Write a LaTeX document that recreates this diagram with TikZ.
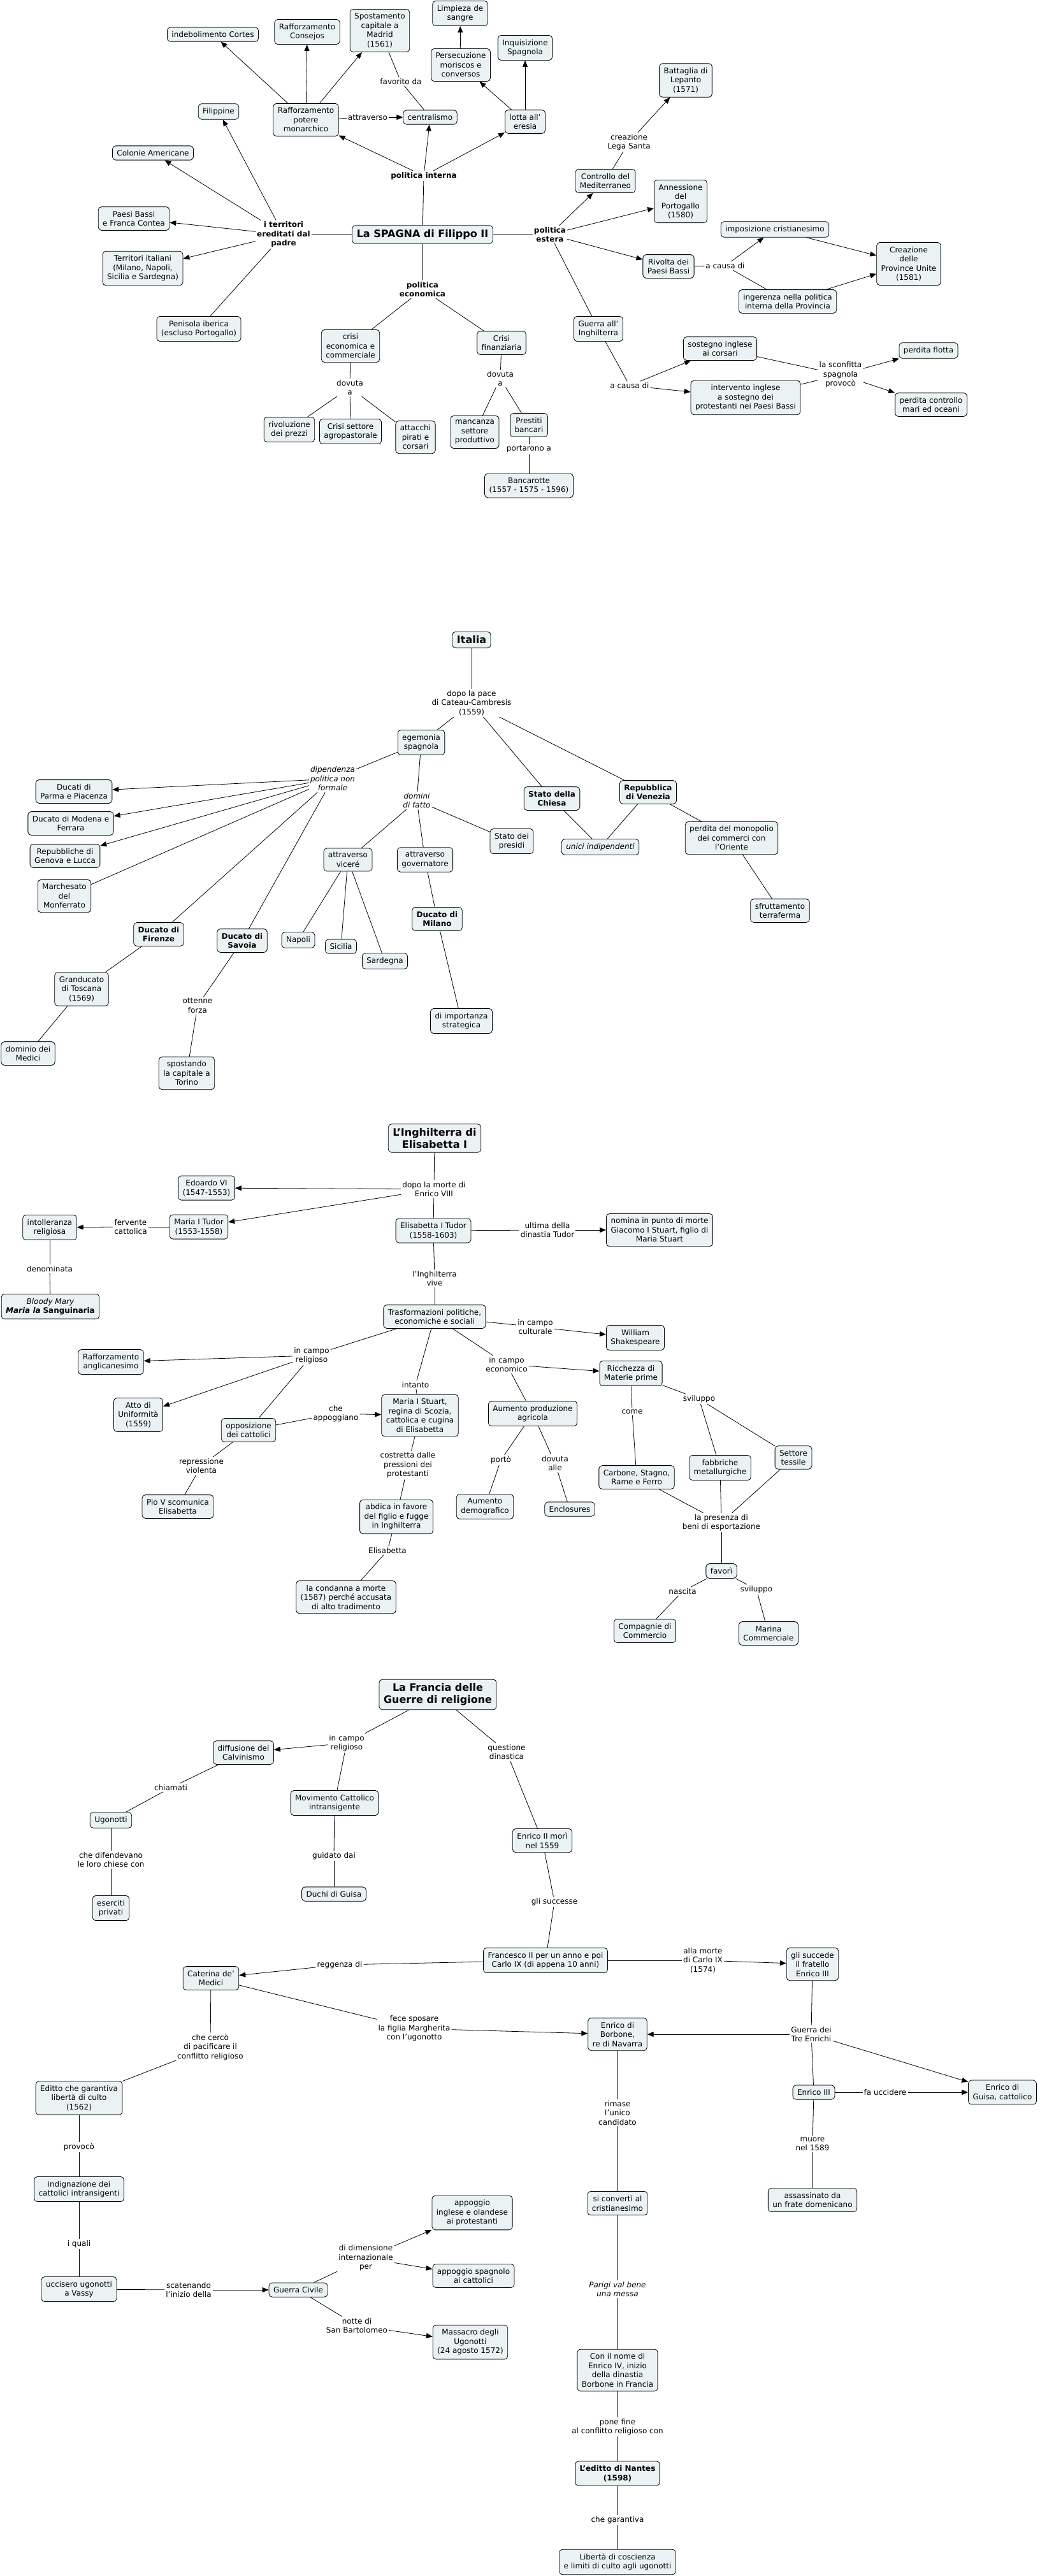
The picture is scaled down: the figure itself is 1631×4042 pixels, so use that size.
\documentclass[tikz,border=0pt]{standalone}
\usepackage{fontspec}
\setmainfont{DejaVu Sans}[ItalicFont={DejaVu Sans Oblique},BoldItalicFont={DejaVu Sans Bold Oblique}]
\usepackage{tikz}
\usetikzlibrary{arrows.meta}
\usepackage{xcolor}
\definecolor{boxfill}{HTML}{EBF2F4}

\begin{document}
\begin{tikzpicture}[x=1pt, y=-1pt,
  every node/.style={font=\fontsize{12}{14.5}\selectfont, align=center},
  concept/.style={draw, fill=boxfill, rounded corners=5pt, line width=0.8pt, inner xsep=7pt, inner ysep=6.5pt},
  keyconcept/.style={concept, font=\fontsize{12}{14.5}\selectfont\bfseries},
  topic/.style={concept, font=\fontsize{16}{19}\selectfont\bfseries},
  phrase/.style={inner sep=2pt},
  phraseb/.style={phrase, font=\fontsize{12}{14.5}\selectfont\bfseries},
  phrasei/.style={phrase, font=\fontsize{12}{14.5}\selectfont\itshape},
  conn/.style={line width=0.8pt},
  arr/.style={conn, -{Triangle[length=10pt,width=8pt]}}]
\useasboundingbox[fill=white] (0,0) rectangle (1631,4042);

% La Spagna di Filippo II
\node[topic] (sp) at (663,368) {La SPAGNA di Filippo II};
\node[phraseb] (pint) at (665,276) {politica interna};
\node[phraseb] (pest) at (863,368) {politica\\estera};
\node[phraseb] (peco) at (663,454) {politica\\economica};
\node[phraseb] (terr) at (445,368) {i territori\\ereditati dal\\padre};
\node[concept] (raff) at (480,188) {Rafforzamento\\potere\\monarchico};
\node[concept] (cort) at (334,54) {indebolimento Cortes};
\node[concept] (cons) at (482,50) {Rafforzamento\\Consejos};
\node[concept] (spos) at (596,48) {Spostamento\\capitale a\\Madrid\\(1561)};
\node[phrase] (favo) at (629,128) {favorito da};
\node[phrase] (attr) at (577,184) {attraverso};
\node[concept] (centr) at (675,184) {centralismo};
\node[concept] (lotta) at (824,191) {lotta all'\\eresia};
\node[concept] (pers) at (723,102) {Persecuzione\\moriscos e\\conversos};
\node[concept] (limp) at (722,21) {Limpieza de\\sangre};
\node[concept] (inq) at (824,75) {Inquisizione\\Spagnola};
\node[concept] (fil) at (343,175) {Filippine};
\node[concept] (col) at (240,240) {Colonie Americane};
\node[concept] (pb) at (210,343) {Paesi Bassi\\e Franca Contea};
\node[concept] (tit) at (224,421) {Territori italiani\\(Milano, Napoli,\\Sicilia e Sardegna)};
\node[concept] (pen) at (312,516) {Penisola iberica\\(escluso Portogallo)};
\node[concept] (crec) at (550,543) {crisi\\economica e\\commerciale};
\node[concept] (crfin) at (787,538) {Crisi\\finanziaria};
\node[phrase] (dov1) at (549,608) {dovuta\\a};
\node[concept] (riv) at (454,674) {rivoluzione\\dei prezzi};
\node[concept] (agro) at (550,677) {Crisi settore\\agropastorale};
\node[concept] (pir) at (652,686) {attacchi\\pirati e\\corsari};
\node[phrase] (dov2) at (785,594) {dovuta\\a};
\node[concept] (manc) at (745,678) {mancanza\\settore\\produttivo};
\node[concept] (prest) at (830,667) {Prestiti\\bancari};
\node[phrase] (port) at (830,705) {portarono a};
\node[concept] (banc) at (830,762) {Bancarotte\\(1557 - 1575 - 1596)};
\node[concept] (contr) at (950,284) {Controllo del\\Mediterraneo};
\node[phrase] (lega) at (987,223) {creazione\\Lega Santa};
\node[concept] (lep) at (1076,126) {Battaglia di\\Lepanto\\(1571)};
\node[concept] (ann) at (1068,316) {Annessione\\del\\Portogallo\\(1580)};
\node[concept] (rivo) at (1049,418) {Rivolta dei\\Paesi Bassi};
\node[phrase] (caus1) at (1138,417) {a causa di};
\node[concept] (imp) at (1216,360) {imposizione cristianesimo};
\node[concept] (ing) at (1236,473) {ingerenza nella politica\\interna della Provincia};
\node[concept] (prov) at (1426,414) {Creazione\\delle\\Province Unite\\(1581)};
\node[concept] (guer) at (939,516) {Guerra all'\\Inghilterra};
\node[phrase] (caus2) at (988,605) {a causa di};
\node[concept] (sost) at (1130,547) {sostegno inglese\\ai corsari};
\node[concept] (interv) at (1170,624) {intervento inglese\\a sostegno dei\\protestanti nei Paesi Bassi};
\node[phrase] (scon) at (1319,588) {la sconfitta\\spagnola\\provocò};
\node[concept] (flot) at (1457,550) {perdita flotta};
\node[concept] (mari) at (1461,635) {perdita controllo\\mari ed oceani};

\draw[conn] (sp) -- (pint);
\draw[arr] (pint) -- (raff);
\draw[arr] (pint) -- (centr);
\draw[arr] (pint) -- (lotta);
\draw[arr] (raff) -- (cort);
\draw[arr] (raff) -- (cons);
\draw[arr] (raff) -- (spos);
\draw[conn] (raff) -- (attr);
\draw[arr] (attr) -- (centr);
\draw[conn] (spos) -- (favo);
\draw[conn] (favo) -- (centr);
\draw[arr] (lotta) -- (pers);
\draw[arr] (lotta) -- (inq);
\draw[arr] (pers) -- (limp);
\draw[conn] (sp) -- (terr);
\draw[arr] (terr) -- (fil);
\draw[arr] (terr) -- (col);
\draw[arr] (terr) -- (pb);
\draw[arr] (terr) -- (tit);
\draw[conn] (terr) -- (pen);
\draw[conn] (sp) -- (peco);
\draw[conn] (peco) -- (crec);
\draw[conn] (peco) -- (crfin);
\draw[conn] (crec) -- (dov1);
\draw[conn] (dov1) -- (riv);
\draw[conn] (dov1) -- (agro);
\draw[conn] (dov1) -- (pir);
\draw[conn] (crfin) -- (dov2);
\draw[conn] (dov2) -- (manc);
\draw[conn] (dov2) -- (prest);
\draw[conn] (prest) -- (port);
\draw[conn] (port) -- (banc);
\draw[conn] (sp) -- (pest);
\draw[arr] (pest) -- (contr);
\draw[arr] (pest) -- (ann);
\draw[arr] (pest) -- (rivo);
\draw[conn] (pest) -- (guer);
\draw[conn] (contr) -- (lega);
\draw[arr] (lega) -- (lep);
\draw[conn] (rivo) -- (caus1);
\draw[arr] (caus1) -- (imp);
\draw[conn] (caus1) -- (ing);
\draw[arr] (imp) -- (prov);
\draw[arr] (ing) -- (prov);
\draw[conn] (guer) -- (caus2);
\draw[arr] (caus2) -- (sost);
\draw[arr] (caus2) -- (interv);
\draw[conn] (sost) -- (scon);
\draw[conn] (interv) -- (scon);
\draw[arr] (scon) -- (flot);
\draw[arr] (scon) -- (mari);

% Italia
\node[topic] (ita) at (740,1004) {Italia};
\node[phrase] (pace) at (740,1103) {dopo la pace\\di Cateau-Cambresis\\(1559)};
\node[concept] (egem) at (661,1165) {egemonia\\spagnola};
\node[phrasei] (dip) at (522,1222) {dipendenza\\politica non\\formale};
\node[phrasei] (dom) at (654,1256) {domini\\di fatto};
\node[concept] (parma) at (116,1242) {Ducati di\\Parma e Piacenza};
\node[concept] (mod) at (111,1292) {Ducato di Modena e\\Ferrara};
\node[concept] (gen) at (102,1343) {Repubbliche di\\Genova e Lucca};
\node[concept] (monf) at (101,1406) {Marchesato\\del\\Monferrato};
\node[keyconcept] (fir) at (249,1466) {Ducato di\\Firenze};
\node[keyconcept] (sav) at (380,1476) {Ducato di\\Savoia};
\node[concept] (tosc) at (128,1552) {Granducato\\di Toscana\\(1569)};
\node[concept] (med) at (44,1653) {dominio dei\\Medici};
\node[phrase] (forza) at (310,1578) {ottenne\\forza};
\node[concept] (tor) at (293,1684) {spostando\\la capitale a\\Torino};
\node[concept] (vic) at (546,1349) {attraverso\\viceré};
\node[concept] (gov) at (667,1349) {attraverso\\governatore};
\node[concept] (pres) at (803,1320) {Stato dei\\presidi};
\node[concept] (nap) at (468,1475) {Napoli};
\node[concept] (sic) at (535,1485) {Sicilia};
\node[concept] (sard) at (604,1508) {Sardegna};
\node[keyconcept] (mil) at (686,1442) {Ducato di\\Milano};
\node[concept] (strat) at (724,1602) {di importanza\\strategica};
\node[keyconcept] (chie) at (866,1253) {Stato della\\Chiesa};
\node[keyconcept] (ven) at (1017,1243) {Repubblica\\di Venezia};
\node[concept, font=\fontsize{12}{14.5}\selectfont\itshape] (unici) at (942,1329) {unici indipendenti};
\node[concept] (mono) at (1148,1315) {perdita del monopolio\\dei commerci con\\l'Oriente};
\node[concept] (sfru) at (1224,1429) {sfruttamento\\terraferma};

\draw[conn] (ita) -- (pace);
\draw[conn] (pace) -- (egem);
\draw[conn] (pace) -- (chie);
\draw[conn] (pace) -- (ven);
\draw[conn] (egem) -- (dip);
\draw[arr] (dip) -- (parma);
\draw[arr] (dip) -- (mod);
\draw[arr] (dip) -- (gen);
\draw[conn] (dip) -- (monf);
\draw[conn] (dip) -- (fir);
\draw[conn] (dip) -- (sav);
\draw[conn] (egem) -- (dom);
\draw[conn] (dom) -- (vic);
\draw[conn] (dom) -- (gov);
\draw[conn] (dom) -- (pres);
\draw[conn] (vic) -- (nap);
\draw[conn] (vic) -- (sic);
\draw[conn] (vic) -- (sard);
\draw[conn] (gov) -- (mil);
\draw[conn] (mil) -- (strat);
\draw[conn] (fir) -- (tosc);
\draw[conn] (tosc) -- (med);
\draw[conn] (sav) -- (forza);
\draw[conn] (forza) -- (tor);
\draw[conn] (chie) -- (unici);
\draw[conn] (ven) -- (unici);
\draw[conn] (ven) -- (mono);
\draw[conn] (mono) -- (sfru);

% L'Inghilterra di Elisabetta I
\node[topic] (eng) at (682,1786) {L'Inghilterra di\\Elisabetta I};
\node[phrase] (morte) at (681,1866) {dopo la morte di\\Enrico VIII};
\node[concept] (edo) at (324,1864) {Edoardo VI\\(1547-1553)};
\node[concept] (mtud) at (312,1925) {Maria I Tudor\\(1553-1558)};
\node[phrase] (ferv) at (205,1925) {fervente\\cattolica};
\node[concept] (intol) at (78,1926) {intolleranza\\religiosa};
\node[phrase] (denom) at (78,1991) {denominata};
\node[concept] (bloody) at (79,2050) {\textit{Bloody Mary}\\{\bfseries\itshape Maria la} \textbf{Sanguinaria}};
\node[concept] (eli) at (680,1931) {Elisabetta I Tudor\\(1558-1603)};
\node[phrase] (ult) at (859,1930) {ultima della\\dinastia Tudor};
\node[concept] (giac) at (1035,1930) {nomina in punto di morte\\Giacomo I Stuart, figlio di\\Maria Stuart};
\node[phrase] (vive) at (682,2006) {l'Inghilterra\\vive};
\node[concept] (trasf) at (682,2066) {Trasformazioni politiche,\\economiche e sociali};
\node[phrase] (crel) at (489,2127) {in campo\\religioso};
\node[concept] (angl) at (174,2137) {Rafforzamento\\anglicanesimo};
\node[concept] (atto) at (217,2220) {Atto di\\Uniformità\\(1559)};
\node[concept] (opp) at (390,2244) {opposizione\\dei cattolici};
\node[phrase] (appo) at (527,2218) {che\\appoggiano};
\node[phrase] (intanto) at (652,2173) {intanto};
\node[concept] (mstu) at (659,2221) {Maria I Stuart,\\regina di Scozia,\\cattolica e cugina\\di Elisabetta};
\node[phrase] (repr) at (316,2300) {repressione\\violenta};
\node[concept] (pio) at (279,2364) {Pio V scomunica\\Elisabetta};
\node[phrase] (costr) at (640,2299) {costretta dalle\\pressioni dei\\protestanti};
\node[concept] (abd) at (622,2380) {abdica in favore\\del figlio e fugge\\in Inghilterra};
\node[phrase] (elil) at (608,2433) {Elisabetta};
\node[concept] (cond) at (543,2506) {la condanna a morte\\(1587) perché accusata\\di alto tradimento};
\node[phrase] (ccult) at (840,2082) {in campo\\culturale};
\node[concept] (will) at (997,2099) {William\\Shakespeare};
\node[phrase] (ceco) at (795,2141) {in campo\\economico};
\node[concept] (ricc) at (990,2155) {Ricchezza di\\Materie prime};
\node[concept] (agr) at (836,2218) {Aumento produzione\\agricola};
\node[phrase] (porto) at (786,2291) {portò};
\node[concept] (demo) at (761,2364) {Aumento\\demografico};
\node[phrase] (dovalle) at (871,2296) {dovuta\\alle};
\node[concept] (encl) at (894,2368) {Enclosures};
\node[phrase] (come) at (992,2215) {come};
\node[phrase] (svil) at (1097,2195) {sviluppo};
\node[concept] (carb) at (999,2318) {Carbone, Stagno,\\Rame e Ferro};
\node[concept] (fabb) at (1130,2303) {fabbriche\\metallurgiche};
\node[concept] (tess) at (1245,2287) {Settore\\tessile};
\node[phrase] (beni) at (1132,2389) {la presenza di\\beni di esportazione};
\node[concept] (favori) at (1132,2465) {favorì};
\node[phrase] (nasc) at (1071,2497) {nascita};
\node[phrase] (svil2) at (1187,2494) {sviluppo};
\node[concept] (comp) at (1012,2559) {Compagnie di\\Commercio};
\node[concept] (mar) at (1206,2563) {Marina\\Commerciale};

\draw[conn] (eng) -- (morte);
\draw[conn] (morte) -- (eli);
\draw[arr] (morte) -- (edo);
\draw[arr] (morte) -- (mtud);
\draw[conn] (mtud) -- (ferv);
\draw[arr] (ferv) -- (intol);
\draw[conn] (intol) -- (denom);
\draw[conn] (denom) -- (bloody);
\draw[conn] (eli) -- (ult);
\draw[arr] (ult) -- (giac);
\draw[conn] (eli) -- (vive);
\draw[conn] (vive) -- (trasf);
\draw[conn] (trasf) -- (crel);
\draw[arr] (crel) -- (angl);
\draw[arr] (crel) -- (atto);
\draw[conn] (crel) -- (opp);
\draw[conn] (opp) -- (appo);
\draw[arr] (appo) -- (mstu);
\draw[conn] (trasf) -- (intanto);
\draw[conn] (intanto) -- (mstu);
\draw[conn] (opp) -- (repr);
\draw[conn] (repr) -- (pio);
\draw[conn] (mstu) -- (costr);
\draw[conn] (costr) -- (abd);
\draw[conn] (abd) -- (elil);
\draw[conn] (elil) -- (cond);
\draw[conn] (trasf) -- (ccult);
\draw[arr] (ccult) -- (will);
\draw[conn] (trasf) -- (ceco);
\draw[arr] (ceco) -- (ricc);
\draw[conn] (ceco) -- (agr);
\draw[conn] (agr) -- (porto);
\draw[conn] (porto) -- (demo);
\draw[conn] (agr) -- (dovalle);
\draw[conn] (dovalle) -- (encl);
\draw[conn] (ricc) -- (come);
\draw[conn] (come) -- (carb);
\draw[conn] (ricc) -- (svil);
\draw[conn] (svil) -- (fabb);
\draw[conn] (svil) -- (tess);
\draw[conn] (carb) -- (beni);
\draw[conn] (fabb) -- (beni);
\draw[conn] (tess) -- (beni);
\draw[conn] (beni) -- (favori);
\draw[conn] (favori) -- (nasc);
\draw[conn] (nasc) -- (comp);
\draw[conn] (favori) -- (svil2);
\draw[conn] (svil2) -- (mar);

% La Francia delle Guerre di religione
\node[topic] (fra) at (687,2659) {La Francia delle\\Guerre di religione};
\node[phrase] (frel) at (544,2735) {in campo\\religioso};
\node[concept] (calv) at (382,2750) {diffusione del\\Calvinismo};
\node[phrase] (chiam) at (268,2805) {chiamati};
\node[concept] (ugo) at (174,2856) {Ugonotti};
\node[phrase] (difen) at (174,2918) {che difendevano\\le loro chiese con};
\node[concept] (eser) at (174,2994) {eserciti\\privati};
\node[concept] (movc) at (525,2829) {Movimento Cattolico\\intransigente};
\node[phrase] (guid) at (524,2912) {guidato dai};
\node[concept] (guisa) at (524,2972) {Duchi di Guisa};
\node[phrase] (dina) at (795,2749) {questione\\dinastica};
\node[concept] (enr2) at (851,2888) {Enrico II morì\\nel 1559};
\node[phrase] (succ) at (870,2984) {gli successe};
\node[concept] (fran) at (856,3076) {Francesco II per un anno e poi\\Carlo IX (di appena 10 anni)};
\node[phrase] (regg) at (533,3083) {reggenza di};
\node[concept] (cate) at (331,3104) {Caterina de'\\Medici};
\node[phrase] (sposa) at (650,3183) {fece sposare\\la figlia Margherita\\con l'ugonotto};
\node[phrase] (cerco) at (330,3212) {che cercò\\di pacificare il\\conflitto religioso};
\node[concept] (edit) at (124,3292) {Editto che garantiva\\libertà di culto\\(1562)};
\node[phrase] (provoc) at (124,3369) {provocò};
\node[concept] (indi) at (124,3435) {indignazione dei\\cattolici intransigenti};
\node[phrase] (quali) at (124,3521) {i quali};
\node[concept] (vassy) at (124,3592) {uccisero ugonotti\\a Vassy};
\node[phrase] (scat) at (296,3593) {scatenando\\l'inizio della};
\node[concept] (gciv) at (468,3593) {Guerra Civile};
\node[phrase] (dime) at (574,3543) {di dimensione\\internazionale\\per};
\node[concept] (appi) at (741,3472) {appoggio\\inglese e olandese\\ai protestanti};
\node[concept] (apps) at (743,3571) {appoggio spagnolo\\ai cattolici};
\node[phrase] (notte) at (560,3649) {notte di\\San Bartolomeo};
\node[concept] (mass) at (738,3675) {Massacro degli\\Ugonotti\\(24 agosto 1572)};
\node[phrase] (mortec) at (1103,3076) {alla morte\\di Carlo IX\\(1574)};
\node[concept] (e3s) at (1275,3082) {gli succede\\il fratello\\Enrico III};
\node[phrase] (tre) at (1273,3192) {Guerra dei\\Tre Enrichi};
\node[concept] (borb) at (969,3192) {Enrico di\\Borbone,\\re di Navarra};
\node[concept] (e3) at (1277,3283) {Enrico III};
\node[phrase] (uccid) at (1389,3283) {fa uccidere};
\node[concept] (guis) at (1573,3283) {Enrico di\\Guisa, cattolico};
\node[phrase] (muore) at (1275,3364) {muore\\nel 1589};
\node[concept] (assa) at (1275,3452) {assassinato da\\un frate domenicano};
\node[phrase] (unico) at (969,3315) {rimase\\l'unico\\candidato};
\node[concept] (conv) at (969,3457) {si convertì al\\cristianesimo};
\node[phrasei] (parigi) at (969,3592) {Parigi val bene\\una messa};
\node[concept] (enr4) at (969,3719) {Con il nome di\\Enrico IV, inizio\\della dinastia\\Borbone in Francia};
\node[phrase] (pone) at (969,3808) {pone fine\\al conflitto religioso con};
\node[keyconcept] (nant) at (969,3881) {L'editto di Nantes\\(1598)};
\node[phrase] (garan) at (969,3954) {che garantiva};
\node[concept] (lib) at (969,4020) {Libertà di coscienza\\e limiti di culto agli ugonotti};

\draw[conn] (fra) -- (frel);
\draw[arr] (frel) -- (calv);
\draw[conn] (frel) -- (movc);
\draw[conn] (calv) -- (chiam);
\draw[conn] (chiam) -- (ugo);
\draw[conn] (ugo) -- (difen);
\draw[conn] (difen) -- (eser);
\draw[conn] (movc) -- (guid);
\draw[conn] (guid) -- (guisa);
\draw[conn] (fra) -- (dina);
\draw[conn] (dina) -- (enr2);
\draw[conn] (enr2) -- (succ);
\draw[conn] (succ) -- (fran);
\draw[conn] (fran) -- (regg);
\draw[arr] (regg) -- (cate);
\draw[conn] (fran) -- (mortec);
\draw[arr] (mortec) -- (e3s);
\draw[conn] (cate) -- (sposa);
\draw[arr] (sposa) -- (borb);
\draw[conn] (cate) -- (cerco);
\draw[conn] (cerco) -- (edit);
\draw[conn] (edit) -- (provoc);
\draw[conn] (provoc) -- (indi);
\draw[conn] (indi) -- (quali);
\draw[conn] (quali) -- (vassy);
\draw[conn] (vassy) -- (scat);
\draw[arr] (scat) -- (gciv);
\draw[conn] (gciv) -- (dime);
\draw[arr] (dime) -- (appi);
\draw[arr] (dime) -- (apps);
\draw[conn] (gciv) -- (notte);
\draw[arr] (notte) -- (mass);
\draw[conn] (e3s) -- (tre);
\draw[conn] (tre) -- (e3);
\draw[arr] (tre) -- (borb);
\draw[arr] (tre) -- (guis);
\draw[conn] (e3) -- (uccid);
\draw[arr] (uccid) -- (guis);
\draw[conn] (e3) -- (muore);
\draw[conn] (muore) -- (assa);
\draw[conn] (borb) -- (unico);
\draw[conn] (unico) -- (conv);
\draw[conn] (conv) -- (parigi);
\draw[conn] (parigi) -- (enr4);
\draw[conn] (enr4) -- (pone);
\draw[conn] (pone) -- (nant);
\draw[conn] (nant) -- (garan);
\draw[conn] (garan) -- (lib);
\end{tikzpicture}
\end{document}
